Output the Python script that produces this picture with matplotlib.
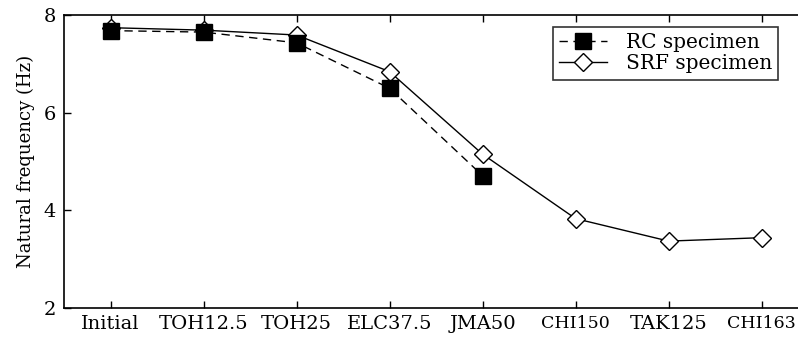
import numpy as np
import matplotlib.pyplot as plt

plt.rcParams['font.family'] = ['DejaVu Serif']

labels = ['Initial', 'TOH12.5', 'TOH25', 'ELC37.5', 'JMA50', 'CHI150', 'TAK125', 'CHI163']
rc = [7.68, 7.65, 7.43, 6.50, 4.71]
srf = [7.74, 7.69, 7.59, 6.84, 5.15, 3.83, 3.37, 3.44]

x = np.arange(len(labels))

fig = plt.figure(figsize=(7.98, 3.38), dpi=100)
# axes runs past the right edge of the picture, as in the original
ax = fig.add_axes([64/798, 1 - 308/338, (810 - 64)/798, (308 - 15)/338])

ax.plot(x, srf, '-', color='black', lw=1, marker='D', markersize=9.5,
        markerfacecolor='white', markeredgecolor='black', markeredgewidth=1,
        label='SRF specimen', zorder=2)
ax.plot(x[:len(rc)], rc, '--', color='black', lw=1, dashes=(6, 4), marker='s',
        markersize=11.5, markerfacecolor='black', markeredgecolor='black',
        label='RC specimen', zorder=3)

ax.set_xlim(-0.5, len(labels) - 0.5 + 0.02)
ax.set_ylim(2, 8)
ax.set_yticks([2, 4, 6, 8])
ax.set_xticks(x)
ax.set_xticklabels(labels)
ax.tick_params(direction='in', top=True, right=False, labelsize=14, length=5, width=1)
ax.tick_params(axis='x', pad=5)
ax.tick_params(axis='y', pad=6)
for t in ax.get_xticklabels():
    if t.get_text().startswith('CHI'):
        t.set_fontsize(12.5)
ax.set_ylabel('Natural frequency (Hz)', fontsize=13, labelpad=6)
ax.spines['right'].set_visible(False)
for s in ax.spines.values():
    s.set_linewidth(1.2)

h, l = ax.get_legend_handles_labels()
leg = ax.legend(h[::-1], l[::-1], loc='upper left', bbox_to_anchor=((553 - 64)/746, 1 - 12/293),
                fontsize=14.5, frameon=True, fancybox=False, edgecolor='black',
                handlelength=2.4, borderpad=0.3, labelspacing=0.12, handletextpad=0.9,
                borderaxespad=0)
leg.get_frame().set_linewidth(1.2)

fig.savefig('out.png', dpi=100)
